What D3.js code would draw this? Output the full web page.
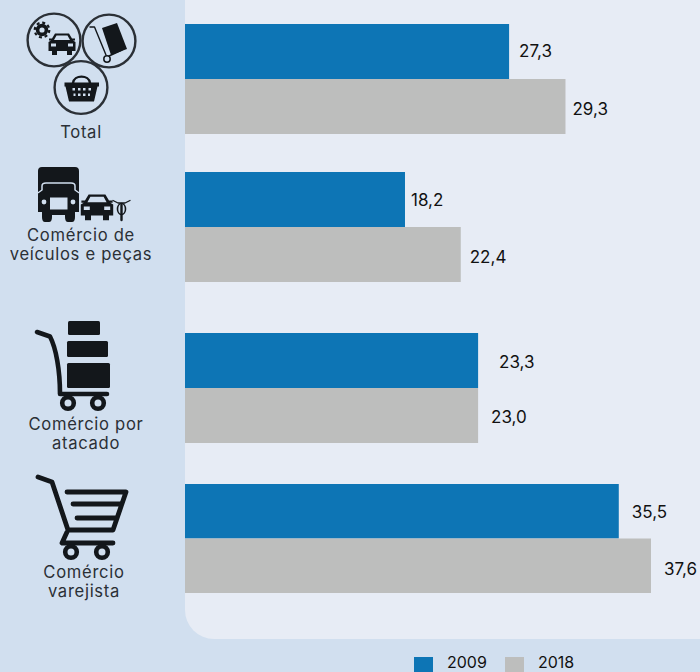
<!DOCTYPE html>
<html><head><meta charset="utf-8">
<script src="https://cdn.jsdelivr.net/npm/d3@7"></script>
<style>html,body{margin:0;padding:0;background:#d1dfef;overflow:hidden}svg{display:block}text{font-family:Inter,sans-serif}</style>
</head><body><svg id="c" width="700" height="672"></svg>
<script>
const categories = ["Total","Comércio de veículos e peças","Comércio por atacado","Comércio varejista"];
const seriesNames = ["2009","2018"];
// printed labels
const labels2009 = ["27,3","18,2","23,3","35,5"];
const labels2018 = ["29,3","22,4","23,0","37,6"];
// bar lengths as drawn in the picture (the source bars do not follow the printed labels exactly)
const bars2009 = [26.15,17.75,23.65,35.0];
const bars2018 = [30.7,22.25,23.65,37.6];
const colors = ["#0d75b5","#bdbebd"];

const svg = d3.select("#c");
const x = d3.scaleLinear().domain([0,37.6]).range([185,651]);
const y0 = [24,172,333,484];          // top of each group
const bandH = [55,55,55,54.5];

svg.append("path").attr("fill","#e7ecf5")
  .attr("d","M700,0H185V610a29,29 0 0 0 29,29H700Z");

const labelDx = [[10,7],[6,9],[21,13],[13,13]];
const labelBase = [[57,115],[206,263],[368,423],[518,575]];
[bars2009,bars2018].forEach((vals,s)=>{
  const labs = s?labels2018:labels2009;
  svg.append("g").selectAll("rect").data(vals).join("rect")
    .attr("x",x(0)).attr("y",(d,i)=>y0[i]+s*bandH[i])
    .attr("width",d=>x(d)-x(0)).attr("height",(d,i)=>bandH[i]).attr("fill",colors[s]);
  svg.append("g").selectAll("text").data(vals).join("text")
    .attr("x",(d,i)=>x(d)+labelDx[i][s]).attr("y",(d,i)=>labelBase[i][s])
    .attr("font-size",17).attr("fill","#111").text((d,i)=>labs[i]);
});

const catLines = [["Total"],["Comércio de","veículos e peças"],["Comércio por","atacado"],["Comércio","varejista"]];
const catY = [[138],[241,260],[430,449],[578,597]];
const catX = [81,81,86,84];
catLines.forEach((ls,i)=>ls.forEach((t,j)=>{
  svg.append("text").attr("x",catX[i]).attr("y",catY[i][j]).attr("text-anchor","middle")
    .attr("font-size",16.6).attr("letter-spacing",0.7).attr("fill","#2b3036").text(t);
}));

// legend
const lg = svg.append("g");
seriesNames.forEach((n,i)=>{
  const lx=[414,505][i];
  lg.append("rect").attr("x",lx).attr("y",657).attr("width",19).attr("height",15).attr("fill",colors[i]);
  lg.append("text").attr("x",lx+33).attr("y",668).attr("font-size",16).attr("fill","#111").text(n);
});

// icons
const ink="#13171b", bg="#d1dfef";
const ic = svg.append("g");
function circ(cx,cy){ic.append("circle").attr("cx",cx).attr("cy",cy).attr("r",26.4).attr("fill","none").attr("stroke","#2b3036").attr("stroke-width",2.4);}
circ(54,40);circ(109,41);circ(81,87.5);
const P=(d,o={})=>ic.append("path").attr("d",d).attr("fill",o.f||ink).attr("stroke",o.s||"none").attr("stroke-width",o.w||0).attr("stroke-linecap","round").attr("stroke-linejoin","round").attr("fill-rule","evenodd");
function car(cx,cy,s){
  const t=`translate(${cx},${cy}) scale(${s})`;
  P("M-13.5,2V-2L-11,-3.5H-13V-5.5H-10L-7,-10.5H7L10,-5.5H13V-3.5H11L13.5,-2V2V7H10V11H5V7H-5V11H-10V7H-13.5Z M-5.5,-8.5L-8,-4H8L5.5,-8.5Z M-11,-0.5V2.5H-6V-0.5Z M11,-0.5V2.5H6V-0.5Z").attr("transform",t);
}
// total: gear + car
ic.append("circle").attr("cx",42).attr("cy",30).attr("r",4.4).attr("fill","none").attr("stroke",ink).attr("stroke-width",3.6);
ic.append("circle").attr("cx",42).attr("cy",30).attr("r",7.3).attr("fill","none").attr("stroke",ink).attr("stroke-width",2.2).attr("stroke-dasharray","3 2.73");
car(62,44,1);
// hand truck with box
P("M90,27H94.5L106,55",{f:"none",s:ink,w:1.4});
P("M109,56L122,50",{f:"none",s:ink,w:1.4});
ic.append("circle").attr("cx",107).attr("cy",59).attr("r",3.2).attr("fill",bg).attr("stroke",ink).attr("stroke-width",1.5);
P("M102,28L117,23L127,49L111,55Z");
// basket
P("M64.5,82.5H99V86.5H97.5L94,101.5H69L65.5,86.5H64.5Z M72.5,88V90.5H75V88Z M78,88V90.5H80.5V88Z M83,88V90.5H85.5V88Z M88.5,88V90.5H91V88Z M73.5,93.5V96H75.5V93.5Z M78,93.5V96H80.5V93.5Z M83,93.5V96H85.5V93.5Z M88,93.5V96H90V93.5Z");
P("M73,83C74,74.5 89,74.5 90,83",{f:"none",s:ink,w:2.4});
// truck
P("M38,171a4,4 0 0 1 4,-4H75a4,4 0 0 1 4,4V212H75V217Q75,222 72,222H68Q65,222 65,217V215H52V217Q52,222 49,222H45Q42,222 42,217V212H38Z");
P("M38.5,192.5L42,190V186Q42,183 46,183H71Q75,183 75,186V190L78.5,192.5",{f:"none",s:bg,w:1.5});
P("M50,197.5H67.5V209.5H50Z",{f:bg});
ic.append("circle").attr("cx",44).attr("cy",202).attr("r",2.4).attr("fill",bg);
ic.append("circle").attr("cx",73).attr("cy",202).attr("r",2.4).attr("fill",bg);
car(97,207,1.2);
// bike
P("M121.5,205V220",{f:"none",s:ink,w:2.4});
P("M113,200.5L118,203H125L130,200.5",{f:"none",s:ink,w:1.3});
ic.append("ellipse").attr("cx",121.5).attr("cy",209).attr("rx",4).attr("ry",5.5).attr("fill","none").attr("stroke",ink).attr("stroke-width",1.6);
// wholesale cart
[[68,321,32,14],[67,341,41,16],[67,363,43,25]].forEach(r=>ic.append("rect").attr("x",r[0]).attr("y",r[1]).attr("width",r[2]).attr("height",r[3]).attr("rx",1.5).attr("fill",ink));
P("M37,332L50,336.5C56,348 60,370 60,394H107",{f:"none",s:ink,w:4.6});
[[68,403],[98,403]].forEach(c=>ic.append("circle").attr("cx",c[0]).attr("cy",c[1]).attr("r",5.8).attr("fill","none").attr("stroke",ink).attr("stroke-width",4.6));
// retail cart
P("M38,477L52,482L68,530H113L126,492H67 M73,504H120 M77,518H115 M67,532L62,543H113",{f:"none",s:ink,w:4.8});
[[71,552],[102,552]].forEach(c=>ic.append("circle").attr("cx",c[0]).attr("cy",c[1]).attr("r",5.8).attr("fill","none").attr("stroke",ink).attr("stroke-width",4.6));
</script></body></html>
